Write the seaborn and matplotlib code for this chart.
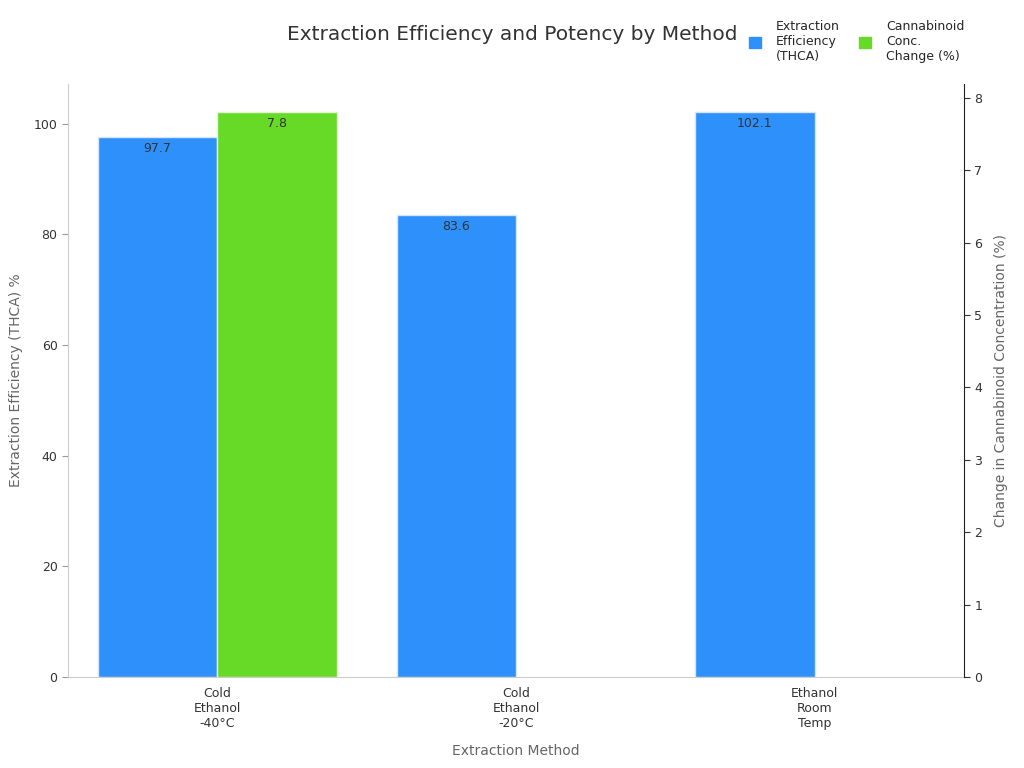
import pandas as pd
import numpy as np
import matplotlib.pyplot as plt
import seaborn as sns

# Data
methods = ["Cold\nEthanol\n-40°C", "Cold\nEthanol\n-20°C", "Ethanol\nRoom\nTemp"]
efficiency = [97.7, 83.6, 102.1]
conc_change = [7.8, np.nan, np.nan]

eff_name = "Extraction\nEfficiency\n(THCA)"
conc_name = "Cannabinoid\nConc.\nChange (%)"
series_order = [eff_name, conc_name]
palette = {eff_name: "#2E90FA", conc_name: "#66DA26"}

df_eff = pd.DataFrame({"method": methods, "series": eff_name, "value": efficiency})
df_conc = pd.DataFrame({"method": methods, "series": conc_name, "value": conc_change})

sns.set_style("white")
plt.rcParams["font.family"] = ["DejaVu Sans"]

fig = plt.figure(figsize=(10.24, 7.68), dpi=100)
ax1 = fig.add_axes([0.0664, 0.1185, 0.8750, 0.7721])
ax2 = ax1.twinx()

sns.barplot(data=df_eff, x="method", y="value", hue="series", order=methods,
            hue_order=series_order, palette=palette, ax=ax1, width=0.8, dodge=True,
            saturation=1, edgecolor="#d6e6fa", linewidth=1, legend=False)
sns.barplot(data=df_conc, x="method", y="value", hue="series", order=methods,
            hue_order=series_order, palette=palette, ax=ax2, width=0.8, dodge=True,
            saturation=1, edgecolor="#e2f5d6", linewidth=1, legend=False)

ax1.set_xlim(-0.5, 2.5)
ax1.set_ylim(0, max(efficiency) * 1.05)
ax2.set_ylim(0, np.nanmax(conc_change) * 1.05)
ax1.set_yticks([0, 20, 40, 60, 80, 100])
ax2.set_yticks(range(0, 9))

# value labels inside bar tops
for ax in (ax1, ax2):
    for c in ax.containers:
        labels = ["" if np.isnan(v) else f"{v:.1f}" for v in c.datavalues]
        ax.bar_label(c, labels=labels, padding=-13, fontsize=9, color="#333333")

ax1.set_xlabel("Extraction Method", fontsize=10, color="#666666", labelpad=10)
ax1.set_ylabel("Extraction Efficiency (THCA) %", fontsize=10, color="#666666", labelpad=8)
ax2.set_ylabel("Change in Cannabinoid Concentration (%)", fontsize=10, color="#666666", labelpad=8)

for ax in (ax1, ax2):
    ax.tick_params(axis="both", labelsize=9, colors="#333333", length=4, width=0.8)
    ax.spines["top"].set_visible(False)
ax1.tick_params(axis="y", color="#999999")
ax1.tick_params(axis="x", color="#999999")
ax1.spines["left"].set_color("#cccccc")
ax1.spines["bottom"].set_color("#cccccc")
ax1.spines["right"].set_visible(False)
ax2.spines["left"].set_visible(False)
ax2.spines["bottom"].set_visible(False)
ax2.spines["right"].set_color("#222222")
ax2.tick_params(axis="y", color="#333333")

fig.suptitle("Extraction Efficiency and Potency by Method", x=0.5, y=0.967,
             fontsize=14.5, color="#333333")

handles = [plt.Rectangle((0, 0), 1, 1, color=palette[s]) for s in series_order]
fig.legend(handles, series_order, loc="upper right", bbox_to_anchor=(0.953, 0.988),
           ncol=2, frameon=False, fontsize=9, handlelength=1.0, handleheight=1.0,
           columnspacing=1.5, handletextpad=1.2)

fig.savefig("out.png", dpi=100)
